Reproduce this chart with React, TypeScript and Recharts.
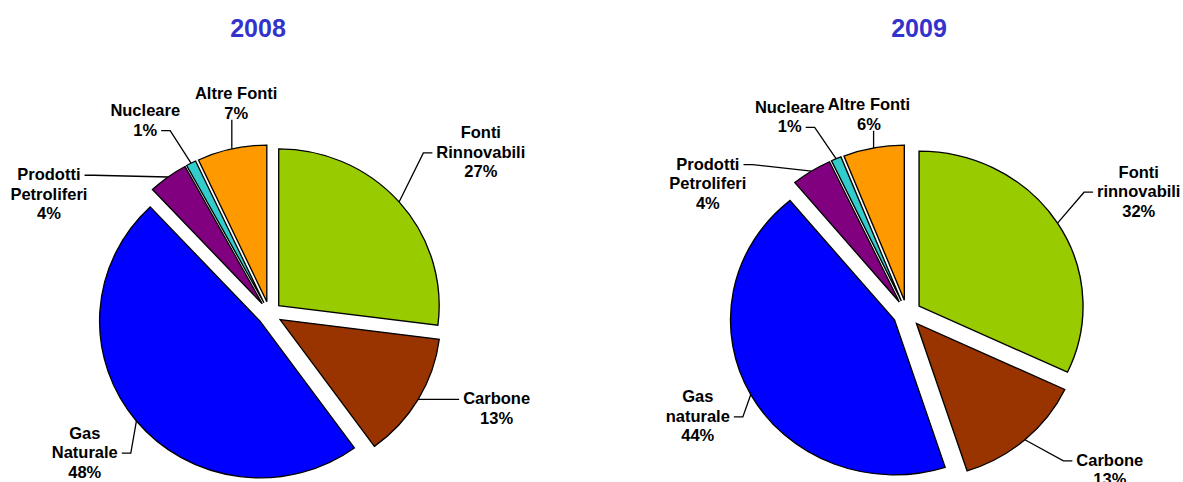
import React from 'react';
import { PieChart, Pie, Cell, Sector, Tooltip } from 'recharts';

// ---------- data ----------
const years = ['2008', '2009'];
const categories2008 = ['Fonti Rinnovabili', 'Carbone', 'Gas Naturale', 'Prodotti Petroliferi', 'Nucleare', 'Altre Fonti'];
const shares2008 = [27, 13, 48, 4, 1, 7];
const labelLines2008 = [['Fonti', 'Rinnovabili'], ['Carbone'], ['Gas', 'Naturale'], ['Prodotti', 'Petroliferi'], ['Nucleare'], ['Altre Fonti']];

const categories2009 = ['Fonti rinnovabili', 'Carbone', 'Gas naturale', 'Prodotti Petroliferi', 'Nucleare', 'Altre Fonti'];
const shares2009 = [32, 13, 44, 4, 1, 6];
const labelLines2009 = [['Fonti', 'rinnovabili'], ['Carbone'], ['Gas', 'naturale'], ['Prodotti', 'Petroliferi'], ['Nucleare'], ['Altre Fonti']];

// ---------- style ----------
const sliceColors = ['#99CC00', '#993300', '#0000FF', '#800080', '#33CCCC', '#FF9900'];
const TITLE_COLOR = '#3333CC';
const FONT = '"Liberation Sans", Arial, Helvetica, sans-serif';
const FS = 16.5;
const LH = 19.5;
const RAD = Math.PI / 180;

type Geom = { cx: number; cy: number; r: number; sx: number; explode: number };
const geoms: Geom[] = [
  { cx: 269.5, cy: 313.5, r: 156.7, sx: 1.024, explode: 12 },
  { cx: 907, cy: 313.4, r: 155, sx: 1.058, explode: 13.5 },
];

type Place = { dA: number; dist: number; side: 'left' | 'right' | 'bottom'; line: number };
const place2008: Place[] = [
  { dA: 4.0, dist: 266, side: 'left', line: 1 },
  { dA: -8.0, dist: 246, side: 'left', line: 0 },
  { dA: 2.7, dist: 231, side: 'right', line: 1 },
  { dA: -25.5, dist: 251, side: 'right', line: 0 },
  { dA: -5.7, dist: 230, side: 'right', line: 1 },
  { dA: 3.6, dist: 213, side: 'bottom', line: 1 },
];
const place2009: Place[] = [
  { dA: 4.6, dist: 262, side: 'left', line: 1 },
  { dA: -11, dist: 256, side: 'left', line: 0 },
  { dA: 2.7, dist: 233, side: 'right', line: 1 },
  { dA: -24.4, dist: 238, side: 'right', line: 0 },
  { dA: -7.4, dist: 229, side: 'right', line: 1 },
  { dA: 0, dist: 203, side: 'bottom', line: 1 },
];

let ctx: CanvasRenderingContext2D | null = null;
function measure(t: string): number {
  if (!ctx && typeof document !== 'undefined') {
    ctx = document.createElement('canvas').getContext('2d');
  }
  if (ctx) {
    ctx.font = `bold ${FS}px ${FONT}`;
    return ctx.measureText(t).width;
  }
  return t.length * FS * 0.56;
}

const makeShape = (g: Geom) => (props: any) => {
  const { cx, cy, midAngle, outerRadius, startAngle, endAngle, fill } = props;
  const a = midAngle * RAD;
  const ox = g.explode * Math.cos(a);
  const oy = -g.explode * Math.sin(a);
  return (
    <g transform={`translate(${cx} ${cy}) scale(${g.sx} 1) translate(${-cx} ${-cy})`}>
      <Sector
        cx={cx + ox}
        cy={cy + oy}
        innerRadius={0}
        outerRadius={outerRadius}
        startAngle={startAngle}
        endAngle={endAngle}
        fill={fill}
        stroke="#000"
        strokeWidth={1.3}
      />
    </g>
  );
};

const makeLabel = (g: Geom, places: Place[], lines: string[][]) => (props: any) => {
  const { cx, cy, midAngle, outerRadius, index, value } = props;
  const p = places[index];
  const a = midAngle * RAD;
  const ex = g.explode * Math.cos(a);
  const ey = -g.explode * Math.sin(a);
  const ax = cx + g.sx * (ex + outerRadius * Math.cos(a));
  const ay = cy + ey - outerRadius * Math.sin(a);
  const la = (midAngle - p.dA) * RAD;
  const lx = cx + p.dist * Math.cos(la);
  const ly = cy - p.dist * Math.sin(la);
  const all = [...lines[index], `${value}%`];
  const n = all.length;
  const lineY = (i: number) => ly + (i - (n - 1) / 2) * LH;
  let pts: number[][];
  if (p.side === 'bottom') {
    pts = [[ax, ay], [ax, lineY(n - 1) + 7]];
  } else {
    const w = measure(all[p.line]);
    const yE = lineY(p.line) + 1;
    const xE = p.side === 'left' ? lx - w / 2 - 4 : lx + w / 2 + 4;
    const xB = p.side === 'left' ? xE - 9 : xE + 9;
    pts = [[ax, ay], [xB, yE], [xE, yE]];
  }
  return (
    <g key={`lbl-${index}`}>
      <polyline points={pts.map((q) => q.join(',')).join(' ')} fill="none" stroke="#000" strokeWidth={1.3} />
      {all.map((t, i) => (
        <text
          key={i}
          x={lx}
          y={lineY(i) + 6}
          textAnchor="middle"
          fontFamily={FONT}
          fontWeight="bold"
          fontSize={FS}
          fill="#000"
        >
          {t}
        </text>
      ))}
    </g>
  );
};

const data2008 = categories2008.map((name, i) => ({ name, value: shares2008[i] }));
const data2009 = categories2009.map((name, i) => ({ name, value: shares2009[i] }));

const W = 1183;
const H = 482;

export default function App() {
  const shape0 = makeShape(geoms[0]);
  const shape1 = makeShape(geoms[1]);
  return (
    <div style={{ position: 'absolute', left: 0, top: 0, width: W, height: H, background: '#fff' }}>
      <PieChart width={W} height={H} margin={{ top: 0, right: 0, bottom: 0, left: 0 }}>
        <Tooltip defaultIndex={0} content={() => null} cursor={false} />
        <Pie
          data={data2008}
          dataKey="value"
          nameKey="name"
          cx={geoms[0].cx}
          cy={geoms[0].cy}
          outerRadius={geoms[0].r}
          startAngle={90}
          endAngle={-270}
          stroke="#000"
          isAnimationActive={false}
          shape={shape0}
          activeShape={shape0}
          inactiveShape={shape0}
          labelLine={false}
          label={makeLabel(geoms[0], place2008, labelLines2008)}
        >
          {data2008.map((d, i) => (
            <Cell key={d.name} fill={sliceColors[i]} />
          ))}
        </Pie>
        <Pie
          data={data2009}
          dataKey="value"
          nameKey="name"
          cx={geoms[1].cx}
          cy={geoms[1].cy}
          outerRadius={geoms[1].r}
          startAngle={90}
          endAngle={-270}
          stroke="#000"
          isAnimationActive={false}
          shape={shape1}
          activeShape={shape1}
          inactiveShape={shape1}
          labelLine={false}
          label={makeLabel(geoms[1], place2009, labelLines2009)}
        >
          {data2009.map((d, i) => (
            <Cell key={d.name} fill={sliceColors[i]} />
          ))}
        </Pie>
      </PieChart>
      <svg width={W} height={60} style={{ position: 'absolute', left: 0, top: 0, pointerEvents: 'none' }}>
        <text x={258} y={37} textAnchor="middle" fontFamily={FONT} fontWeight="bold" fontSize={25} fill={TITLE_COLOR}>
          {years[0]}
        </text>
        <text x={919} y={37} textAnchor="middle" fontFamily={FONT} fontWeight="bold" fontSize={25} fill={TITLE_COLOR}>
          {years[1]}
        </text>
      </svg>
    </div>
  );
}
